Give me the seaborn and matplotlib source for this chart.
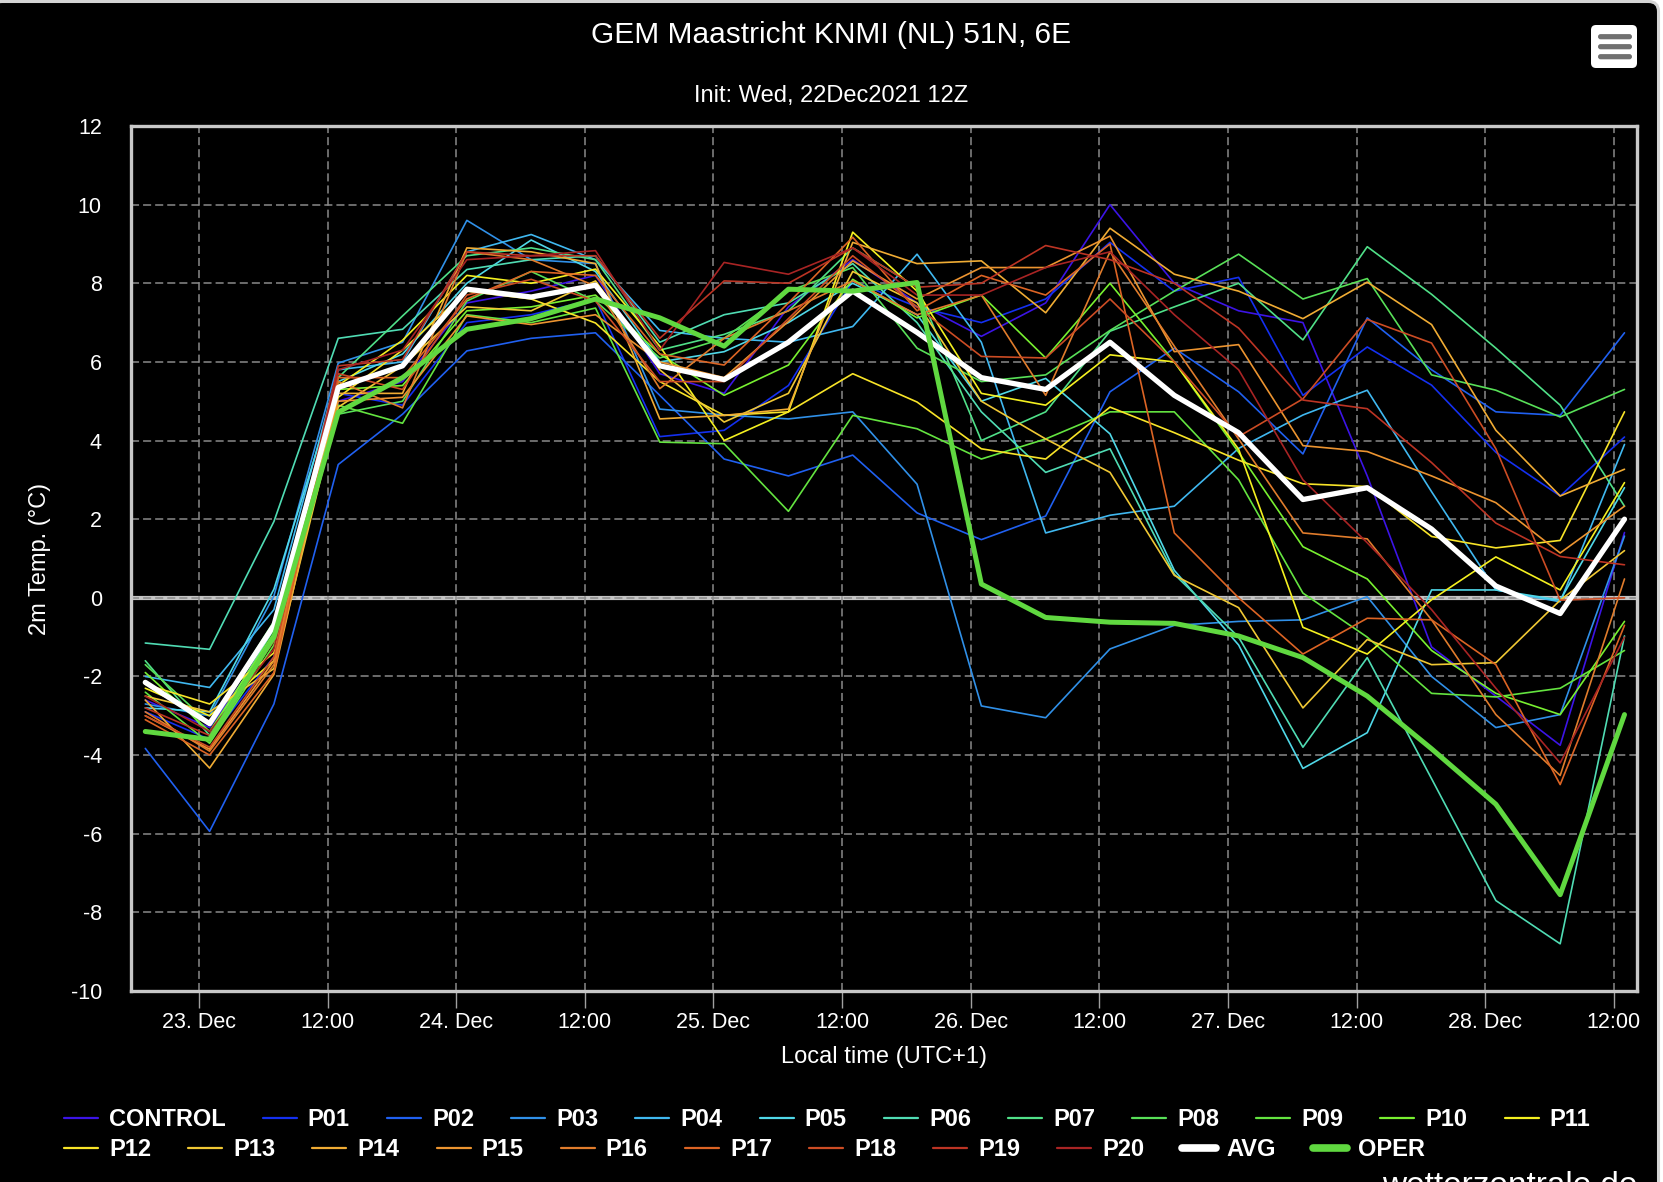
import pandas as pd
import matplotlib
matplotlib.use("Agg")
import matplotlib.pyplot as plt
import seaborn as sns
from matplotlib.lines import Line2D
from matplotlib.patches import FancyBboxPatch

# 6-hourly steps, local time (UTC+1)
times = pd.date_range("2021-12-22 19:00", periods=24, freq="6h")

# 2m temperature per ensemble member
control = [-2.6, -3.3, -1.0, 5.0, 5.5, 7.5, 7.8, 8.2, 5.7, 5.2, 7.4, 8.6, 7.5, 6.65, 7.5, 10.0, 8.0, 7.3, 7.0, 3.1, -1.25, -2.5, -3.75, 1.66]
p01 = [-2.9, -3.6, -1.5, 5.2, 4.9, 7.0, 7.2, 7.6, 4.1, 4.26, 5.4, 8.06, 7.4, 7.0, 7.6, 9.04, 7.8, 8.15, 5.15, 6.38, 5.41, 3.7, 2.59, 4.09]
p02 = [-3.83, -5.94, -2.7, 3.39, 4.67, 6.28, 6.6, 6.74, 5.15, 3.53, 3.1, 3.63, 2.16, 1.48, 2.08, 5.24, 6.35, 5.24, 3.66, 7.12, 5.8, 4.73, 4.64, 6.74]
p03 = [-2.7, -3.0, 0.05, 5.97, 6.5, 9.6, 8.6, 8.5, 4.8, 4.65, 4.55, 4.73, 2.89, -2.75, -3.05, -1.3, -0.7, -0.6, -0.56, 0.03, -2.0, -3.3, -2.97, 1.57]
p04 = [-2.0, -2.28, -0.3, 5.8, 6.0, 8.8, 9.24, 8.6, 6.8, 6.6, 6.5, 6.9, 8.74, 6.5, 1.65, 2.1, 2.33, 3.8, 4.65, 5.28, 2.7, 0.2, -0.1, 3.9]
p05 = [-2.8, -2.9, 0.22, 5.5, 6.2, 8.0, 9.1, 8.3, 6.0, 6.26, 7.0, 8.0, 7.2, 5.0, 5.58, 4.17, 0.7, -1.2, -4.34, -3.43, 0.2, 0.2, -0.06, 2.8]
p06 = [-1.15, -1.31, 1.94, 6.6, 6.83, 8.35, 8.6, 8.7, 6.5, 7.2, 7.5, 8.5, 7.0, 4.73, 3.19, 3.79, 0.6, -1.0, -3.8, -1.52, -4.6, -7.7, -8.8, -0.97]
p07 = [-1.6, -3.5, -0.8, 5.6, 7.17, 8.7, 8.9, 8.6, 6.3, 6.7, 7.3, 8.9, 7.9, 4.0, 4.73, 6.78, 7.4, 8.0, 6.56, 8.93, 7.72, 6.35, 4.9, 2.33]
p08 = [-1.7, -3.2, -0.6, 4.67, 5.0, 7.55, 8.3, 7.55, 6.1, 6.6, 7.8, 8.4, 6.35, 5.5, 5.67, 6.8, 7.8, 8.74, 7.6, 8.12, 5.67, 5.28, 4.6, 5.3]
p09 = [-2.4, -3.7, -1.2, 4.9, 4.44, 7.2, 7.0, 7.37, 3.96, 3.92, 2.2, 4.64, 4.3, 3.53, 4.04, 4.73, 4.73, 3.0, 0.12, -1.0, -2.43, -2.52, -2.3, -1.34]
p10 = [-1.9, -3.4, -0.9, 5.3, 5.4, 7.3, 7.4, 7.7, 6.2, 5.15, 5.92, 8.1, 7.12, 7.7, 6.1, 8.0, 6.0, 3.7, 1.3, 0.48, -1.34, -2.43, -2.97, -0.6]
p11 = [-2.3, -3.0, -1.6, 5.4, 6.55, 8.2, 8.0, 8.36, 6.4, 4.0, 4.73, 9.3, 7.8, 5.2, 4.9, 6.18, 6.0, 3.78, -0.75, -1.43, -0.05, 1.04, 0.2, 2.93]
p12 = [-2.2, -2.7, -1.4, 5.1, 6.3, 7.8, 7.6, 6.99, 5.5, 4.64, 4.73, 5.7, 4.98, 3.79, 3.53, 4.85, 4.2, 3.5, 2.9, 2.83, 1.56, 1.27, 1.46, 4.73]
p13 = [-2.5, -2.9, -1.8, 4.85, 5.9, 7.4, 7.3, 8.06, 5.8, 4.47, 5.2, 8.3, 7.5, 5.0, 4.04, 3.19, 0.57, -0.25, -2.8, -1.06, -1.7, -1.65, -0.06, 1.2]
p14 = [-2.6, -4.33, -1.95, 5.2, 5.2, 8.9, 8.8, 8.5, 4.55, 4.64, 4.8, 9.04, 8.5, 8.57, 7.25, 9.4, 8.23, 7.8, 7.1, 8.03, 6.95, 4.26, 2.59, 3.27]
p15 = [-3.0, -3.85, -1.6, 5.0, 5.1, 7.17, 6.95, 7.2, 6.0, 5.6, 7.03, 8.57, 7.6, 8.4, 8.4, 9.2, 6.26, 6.44, 3.87, 3.72, 3.1, 2.42, 1.14, 2.33]
p16 = [-2.9, -3.9, -1.7, 5.5, 4.83, 8.8, 8.6, 7.93, 5.32, 6.6, 7.3, 8.06, 7.2, 7.7, 5.15, 8.8, 6.4, 4.04, 1.65, 1.5, -0.56, -2.97, -4.52, 0.48]
p17 = [-3.1, -4.0, -1.9, 5.6, 5.6, 7.6, 8.3, 8.2, 6.2, 5.92, 7.5, 9.17, 7.3, 8.2, 7.7, 9.0, 1.65, 0.0, -1.43, -0.52, -0.56, -1.7, -4.75, -0.7]
p18 = [-3.0, -3.8, -1.5, 5.7, 5.3, 7.7, 8.1, 7.55, 5.5, 5.5, 7.1, 8.7, 7.4, 6.14, 6.1, 7.6, 6.0, 4.1, 5.06, 7.08, 6.48, 3.79, -0.06, 0.0]
p19 = [-2.8, -3.5, -1.1, 5.9, 6.06, 8.8, 8.7, 8.7, 6.6, 8.06, 8.0, 8.9, 7.9, 8.0, 8.96, 8.6, 8.0, 6.86, 5.03, 4.81, 3.44, 1.9, 1.05, 0.84]
p20 = [-2.5, -3.4, -1.3, 5.8, 6.3, 8.6, 8.7, 8.83, 6.3, 8.53, 8.23, 8.9, 7.7, 7.7, 8.4, 8.8, 7.2, 5.8, 3.0, 1.4, -0.3, -2.3, -4.2, -1.0]

avg = [-2.15, -3.2, -0.7, 5.35, 5.9, 7.85, 7.65, 7.95, 5.9, 5.55, 6.5, 7.8, 6.75, 5.6, 5.3, 6.5, 5.15, 4.2, 2.5, 2.8, 1.75, 0.3, -0.4, 2.0]
oper = [-3.4, -3.6, -1.0, 4.72, 5.6, 6.83, 7.1, 7.6, 7.12, 6.4, 7.85, 7.8, 8.02, 0.35, -0.5, -0.62, -0.65, -0.97, -1.52, -2.5, -3.84, -5.25, -7.55, -2.97]

members = ["CONTROL", "P01", "P02", "P03", "P04", "P05", "P06", "P07", "P08", "P09", "P10",
           "P11", "P12", "P13", "P14", "P15", "P16", "P17", "P18", "P19", "P20"]
member_values = [control, p01, p02, p03, p04, p05, p06, p07, p08, p09, p10,
                 p11, p12, p13, p14, p15, p16, p17, p18, p19, p20]
member_colors = ["#3c14e6", "#1430f0", "#2060f0", "#3090e8", "#40b8f0", "#50d8e8", "#50dcb4",
                 "#50e088", "#58e058", "#64e440", "#78f030", "#f4f020", "#f8e428", "#f0c834",
                 "#f0ac34", "#ec9430", "#e07c2c", "#dc6424", "#cc4c24", "#bc3424", "#a82424"]
avg_color = "white"
oper_color = "#60d840"

xtick_times = pd.date_range("2021-12-23 00:00", "2021-12-28 12:00", freq="12h")
xtick_labels = ["23. Dec", "12:00", "24. Dec", "12:00", "25. Dec", "12:00",
                "26. Dec", "12:00", "27. Dec", "12:00", "28. Dec", "12:00"]
ytick_values = list(range(-10, 13, 2))

# long table for seaborn
rows = []
for name, vals in zip(members, member_values):
    for t, v in zip(times, vals):
        rows.append({"time": t, "member": name, "temp": v})
df = pd.DataFrame(rows)

sns.set_theme(style="dark")
plt.rcParams["font.family"] = ["Liberation Sans", "DejaVu Sans"]
plt.rcParams["lines.scale_dashes"] = False

W, H = 1663, 1182
fig = plt.figure(figsize=(W / 100, H / 100), dpi=100, facecolor="white")

# background panel in pixel coordinates
bg = fig.add_axes([0, 0, 1, 1], zorder=-1)
bg.set_xlim(0, W)
bg.set_ylim(H, 0)
bg.axis("off")
bg.add_patch(FancyBboxPatch((-8, 1.5), 1666.5, 1220, boxstyle="round,pad=0,rounding_size=10",
                            fc="black", ec="#d4d4d4", lw=2.2))
bg.add_patch(FancyBboxPatch((1591, 25), 46, 43, boxstyle="round,pad=0,rounding_size=5",
                            fc="white", ec="none"))
for yc in [36.7, 46.7, 56.7]:
    bg.add_patch(FancyBboxPatch((1598, yc - 2.6), 34, 5.2, boxstyle="round,pad=0,rounding_size=2.6",
                                fc="#707070", ec="none"))
bg.text(831, 35, "GEM Maastricht KNMI (NL) 51N, 6E", ha="center", va="center",
        fontsize=21.5, color="white")
bg.text(831, 96, "Init: Wed, 22Dec2021 12Z", ha="center", va="center",
        fontsize=17, color="white")
# credit line sits partly below the bottom edge, as in the original
bg.text(1637, 1195, "wetterzentrale.de", ha="right", va="baseline",
        fontsize=24, color="white")

ax_l, ax_r, ax_t, ax_b = 131, 1637, 126, 991
ax = fig.add_axes([ax_l / W, 1 - ax_b / H, (ax_r - ax_l) / W, (ax_b - ax_t) / H])
ax.set_facecolor("black")

sns.lineplot(data=df, x="time", y="temp", hue="member", hue_order=members,
             palette=dict(zip(members, member_colors)), linewidth=1.2, legend=False, ax=ax)
sns.lineplot(x=times, y=avg, color=avg_color, linewidth=3.8, ax=ax)
sns.lineplot(x=times, y=oper, color=oper_color, linewidth=3.6, ax=ax)

ax.axhline(0, color="#c4c4c4", linewidth=3.0, zorder=0.4)

ax.set_xlim(pd.Timestamp("2021-12-22 17:40"), pd.Timestamp("2021-12-28 14:10"))
ax.set_ylim(-10, 12)
ax.set_xticks(xtick_times)
ax.set_xticklabels(xtick_labels)
ax.set_yticks(ytick_values)
ax.set_yticklabels([str(v) for v in ytick_values])

ax.set_axisbelow(True)
ax.grid(True, color="#8a8a8a", linestyle=(0, (5.8, 2.9)), linewidth=1.1)
for s in ax.spines.values():
    s.set_visible(True)
    s.set_color("#c8c8c8")
    s.set_linewidth(2.4)

ax.tick_params(axis="x", bottom=True, length=12, width=1.0, color="#a0a0a0",
               labelcolor="white", labelsize=15.5, pad=3)
ax.tick_params(axis="y", left=False, length=0, labelcolor="white", labelsize=15.5, pad=21)

ax.set_xlabel("Local time (UTC+1)", fontsize=17, color="white")
ax.xaxis.set_label_coords(0.5, (ax_b - 1057) / (ax_b - ax_t))
ax.xaxis.label.set_verticalalignment("center")
ax.set_ylabel("2m Temp. (°C)", fontsize=17, color="white")
ax.yaxis.set_label_coords((40.4 - ax_l) / (ax_r - ax_l), 0.5)
ax.yaxis.label.set_verticalalignment("center")

# legend in two rows, laid out like the original
all_names = members + ["AVG", "OPER"]
all_colors = member_colors + [avg_color, oper_color]
all_widths = [1.6] * len(members) + [5.5, 5.5]
handles = [Line2D([], [], color=c, lw=w) for c, w in zip(all_colors, all_widths)]
leg_kw = dict(loc="center left", frameon=False, borderpad=0, borderaxespad=0,
              handlelength=1.44, handletextpad=0.47, columnspacing=1.57,
              prop={"weight": "bold", "size": 17}, labelcolor="white")
fig.legend(handles[:12], all_names[:12], ncol=12,
           bbox_to_anchor=(63.8 / W, 1 - 1120 / H), **leg_kw)
fig.legend(handles[12:], all_names[12:], ncol=11,
           bbox_to_anchor=(63.8 / W, 1 - 1150 / H), **leg_kw)

fig.savefig("out.png", dpi=100, facecolor=fig.get_facecolor())
